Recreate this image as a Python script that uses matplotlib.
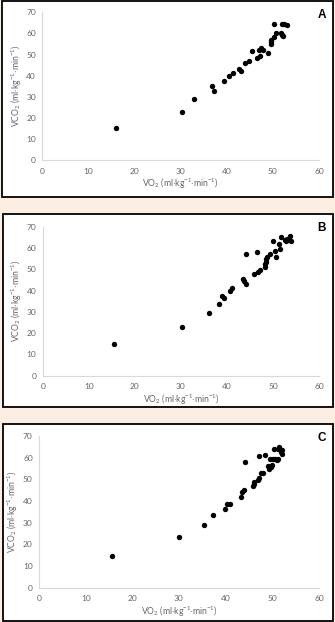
import matplotlib
matplotlib.use('Agg')
import matplotlib.pyplot as plt
from matplotlib.patches import Rectangle

plt.rcParams['font.family'] = ['Lato', 'DejaVu Sans']
plt.rcParams['mathtext.fontset'] = 'custom'
plt.rcParams['mathtext.rm'] = 'Lato'
plt.rcParams['mathtext.default'] = 'regular'

# panel A
vo2_a = [16.0, 30.2, 32.8, 36.7, 37.3, 39.5, 40.4, 41.4, 42.7, 43.1, 43.9, 44.8, 45.5, 46.6, 47.1, 46.9,
         47.4, 47.8, 49.0, 49.5, 49.6, 49.7, 50.2, 50.7, 50.3, 51.7, 52.0, 52.1, 51.9, 52.5, 53.0]
vco2_a = [15.2, 22.7, 29.1, 35.0, 32.9, 37.4, 39.9, 41.0, 43.3, 42.1, 45.8, 46.9, 51.5, 48.4, 49.3, 52.0,
          53.2, 52.1, 50.5, 55.0, 55.9, 56.9, 58.1, 60.2, 64.3, 60.2, 59.4, 58.6, 64.3, 64.6, 63.8]

# panel B
vo2_b = [15.5, 30.2, 36.1, 38.3, 38.9, 39.3, 40.7, 41.0, 43.4, 43.6, 44.1, 44.2, 46.4, 45.8, 46.8, 47.2,
         48.2, 48.3, 48.4, 48.5, 48.6, 49.2, 50.0, 50.4, 50.7, 51.2, 51.5, 51.7, 52.5, 52.7, 52.9, 53.6, 53.9]
vco2_b = [14.8, 22.9, 29.6, 33.5, 37.6, 36.3, 39.9, 41.0, 45.5, 44.5, 43.0, 57.1, 58.1, 47.7, 48.5, 49.5,
          51.3, 52.4, 53.5, 54.8, 55.6, 57.0, 63.1, 58.4, 55.9, 62.1, 59.3, 65.0, 63.8, 63.4, 64.1, 65.7, 63.2]

# panel C
vo2_c = [15.7, 30.0, 35.4, 37.3, 39.8, 40.3, 41.0, 43.3, 43.6, 43.9, 44.1, 45.9, 46.0, 46.0, 46.9, 47.1,
         47.2, 47.6, 47.9, 48.4, 49.1, 49.3, 49.7, 49.9, 49.5, 50.1, 50.5, 50.4, 50.9, 51.2, 51.5, 51.3,
         51.9, 52.0, 52.1]
vco2_c = [14.5, 23.6, 29.1, 33.7, 36.3, 38.6, 38.5, 42.0, 44.3, 45.1, 58.0, 46.9, 48.0, 48.6, 49.8, 50.6,
          60.7, 52.7, 53.1, 61.3, 56.3, 54.9, 55.6, 56.8, 59.3, 59.3, 59.3, 64.0, 58.9, 59.4, 64.8, 64.2,
          62.7, 61.6, 63.4]

panel_labels = ['A', 'B', 'C']
x_ticks = [0, 10, 20, 30, 40, 50, 60]
y_ticks = [0, 10, 20, 30, 40, 50, 60, 70]

W, H = 335, 622
fig = plt.figure(figsize=(W / 100, H / 100), dpi=100)
fig.patch.set_facecolor('#fdeee4')

# рамки (px): left, top, right, bottom
boxes = [(2, 1, 333, 197), (3, 214, 333, 407), (3, 424, 333, 621)]
# области графиков (px): left, right, y для 0, y для 70
areas = [(42.3, 319, 160, 12.3), (42.7, 319.3, 375.7, 226.7), (39, 319, 587.7, 436)]

data = [(vo2_a, vco2_a), (vo2_b, vco2_b), (vo2_c, vco2_c)]
gray = '#666666'

for i in range(3):
    l, t, r, b = boxes[i]
    fig.patches.append(Rectangle((l / W, 1 - b / H), (r - l) / W, (b - t) / H,
                                 transform=fig.transFigure, facecolor='white',
                                 edgecolor='black', linewidth=1.3, zorder=-5))
    x0, x1, y0, y1 = areas[i]
    ax = fig.add_axes([x0 / W, 1 - y0 / H, (x1 - x0) / W, (y0 - y1) / H])
    ax.set_facecolor('none')
    ax.scatter(data[i][0], data[i][1], s=15, color='black', linewidths=0, zorder=3)
    ax.set_xlim(0, 60)
    ax.set_ylim(0, 70)
    ax.set_xticks(x_ticks)
    ax.set_yticks(y_ticks)
    ax.tick_params(length=0, labelsize=6, colors=gray)
    ax.tick_params(axis='x', pad=5.5)
    ax.tick_params(axis='y', pad=4.5)
    for side in ['top', 'right']:
        ax.spines[side].set_visible(False)
    for side in ['left', 'bottom']:
        ax.spines[side].set_color('#d9d9d9')
        ax.spines[side].set_linewidth(0.8)
    ax.set_xlabel(r'VO$_2$ (ml$\cdot$kg$^{-1}$$\cdot$min$^{-1}$)', fontsize=6.2, color=gray, labelpad=1.5)
    ax.set_ylabel(r'VCO$_2$ (ml$\cdot$kg$^{-1}$$\cdot$min$^{-1}$)', fontsize=6.2, color=gray, labelpad=2)
    fig.text(322 / W, 1 - (t + 14) / H, panel_labels[i], fontsize=8.5, fontweight='bold',
             family='Liberation Sans', ha='center', va='center')

fig.savefig('out.png', dpi=100, facecolor=fig.get_facecolor())
